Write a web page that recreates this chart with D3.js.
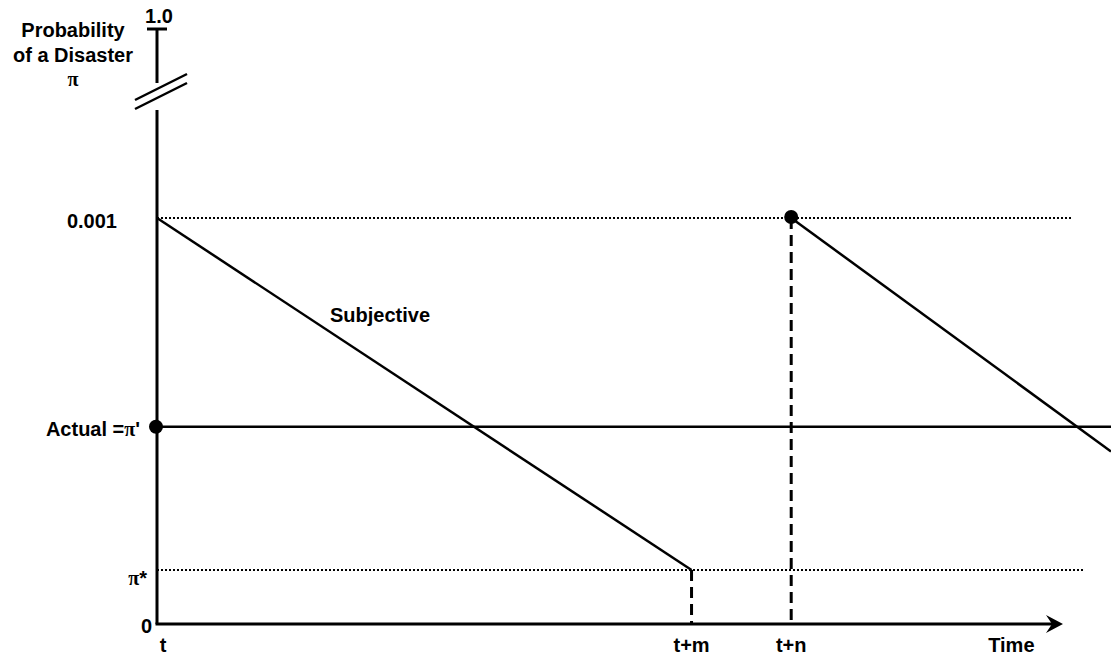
<!DOCTYPE html>
<html>
<head>
<meta charset="utf-8">
<script src="https://d3js.org/d3.v7.min.js"></script>
<style>
  body { margin: 0; background: #fff; }
  svg text { font-family: "Liberation Sans", Arial, sans-serif; font-weight: bold; font-size: 20px; fill: #000; }
  svg tspan.sym { font-family: "Liberation Serif", "Times New Roman", serif; }
</style>
</head>
<body>
<div id="chart"></div>
<script>
// time points (axis units, 0..100 = t .. arrow tip)
var timeTicks = ["t", "t+m", "t+n", "Time"];
var timeValues = [0, 59, 70, 94.3];
// probability levels
var probLabels = ["0", "\u03c0*", "Actual =\u03c0'", "0.001"];
var probValues = [0, 0.000133, 0.000486, 0.001];
// subjective probability paths (time, prob)
var subjective1 = [[0, 0.001], [59, 0.000133]];
var subjective2 = [[70, 0.001], [105.3, 0.000425]];
var actualLevel = 0.000486;

var width = 1111, height = 660;
var svg = d3.select("#chart").append("svg")
  .attr("width", width).attr("height", height);

var x = d3.scaleLinear().domain([0, 100]).range([157, 1063]);
var y = d3.scaleLinear().domain([0, 0.001]).range([624, 218]);
var yTop = y(0.001) - 189; // the "1.0" tick above the axis break

var line = d3.line().x(function(d) { return x(d[0]); }).y(function(d) { return y(d[1]); });

// write label text, with pi in a symbol-like serif face
function setLabel(sel, str) {
  str.split(/(\u03c0)/).forEach(function(part) {
    if (!part) return;
    var ts = sel.append("tspan").text(part);
    if (part == "\u03c0") ts.attr("class", "sym");
  });
}

// dotted reference lines
svg.append("line").attr("x1", x(0)).attr("x2", 1073)
  .attr("y1", y(0.001)).attr("y2", y(0.001))
  .attr("stroke", "#000").attr("stroke-width", 2).attr("stroke-dasharray", "2,2");
svg.append("line").attr("x1", x(0)).attr("x2", 1085)
  .attr("y1", y(0.000133)).attr("y2", y(0.000133))
  .attr("stroke", "#000").attr("stroke-width", 2).attr("stroke-dasharray", "2,2");

// dashed verticals
svg.append("line").attr("x1", x(59)).attr("x2", x(59))
  .attr("y1", y(0.000133)).attr("y2", y(0))
  .attr("stroke", "#000").attr("stroke-width", 3).attr("stroke-dasharray", "11,6");
svg.append("line").attr("x1", x(70)).attr("x2", x(70))
  .attr("y1", y(0.001)).attr("y2", y(0))
  .attr("stroke", "#000").attr("stroke-width", 3).attr("stroke-dasharray", "11,6");

// actual level line
svg.append("line").attr("x1", x(0)).attr("x2", width)
  .attr("y1", y(actualLevel)).attr("y2", y(actualLevel))
  .attr("stroke", "#000").attr("stroke-width", 2.5);

// subjective lines
svg.append("path").datum(subjective1).attr("d", line)
  .attr("fill", "none").attr("stroke", "#000").attr("stroke-width", 2.5);
svg.append("path").datum(subjective2).attr("d", line)
  .attr("fill", "none").attr("stroke", "#000").attr("stroke-width", 2.5);

// y axis (with break)
svg.append("line").attr("x1", x(0)).attr("x2", x(0))
  .attr("y1", yTop).attr("y2", yTop + 54)
  .attr("stroke", "#000").attr("stroke-width", 3);
svg.append("line").attr("x1", x(0)).attr("x2", x(0))
  .attr("y1", yTop + 81).attr("y2", y(0))
  .attr("stroke", "#000").attr("stroke-width", 3);
svg.append("line").attr("x1", x(0) - 10).attr("x2", x(0) + 10)
  .attr("y1", yTop).attr("y2", yTop)
  .attr("stroke", "#000").attr("stroke-width", 3);
[0, 9].forEach(function(o) {
  svg.append("line").attr("x1", x(0) - 22).attr("x2", x(0) + 30)
    .attr("y1", yTop + 71 + o).attr("y2", yTop + 45 + o)
    .attr("stroke", "#000").attr("stroke-width", 2.5);
});

// x axis with arrow
svg.append("line").attr("x1", x(0) - 1.5).attr("x2", x(100) - 8)
  .attr("y1", y(0)).attr("y2", y(0))
  .attr("stroke", "#000").attr("stroke-width", 3);
svg.append("path")
  .attr("d", "M" + x(100) + "," + y(0) + "L" + (x(100) - 17) + "," + (y(0) - 9) +
    "L" + (x(100) - 11) + "," + y(0) + "L" + (x(100) - 17) + "," + (y(0) + 9) + "Z")
  .attr("fill", "#000");

// dots
svg.append("circle").attr("cx", x(0) - 1).attr("cy", y(actualLevel)).attr("r", 7).attr("fill", "#000");
svg.append("circle").attr("cx", x(70)).attr("cy", y(0.001) - 1).attr("r", 7).attr("fill", "#000");

// y labels
var yLabX = [152, 147, 140, 117];
var yLabDy = [9, 15, 9, 10];
svg.selectAll(".ylab").data(probLabels).enter().append("text")
  .attr("class", "ylab")
  .attr("x", function(d, i) { return yLabX[i]; })
  .attr("y", function(d, i) { return y(probValues[i]) + yLabDy[i]; })
  .attr("text-anchor", "end")
  .each(function(d) { setLabel(d3.select(this), d); });

svg.append("text").attr("x", x(0) + 2).attr("y", yTop - 6).attr("text-anchor", "middle").text("1.0");
["Probability", "of a Disaster", "\u03c0"].forEach(function(t, i) {
  setLabel(svg.append("text").attr("x", 73).attr("y", 37 + i * 24.5).attr("text-anchor", "middle"), t);
});

// x labels
svg.selectAll(".xlab").data(timeTicks).enter().append("text")
  .attr("class", "xlab")
  .attr("x", function(d, i) { return x(timeValues[i]) + (i == 0 ? 6 : 0); })
  .attr("y", 652)
  .attr("text-anchor", "middle")
  .text(function(d) { return d; });

svg.append("text").attr("x", 330).attr("y", 322).text("Subjective");
</script>
</body>
</html>
